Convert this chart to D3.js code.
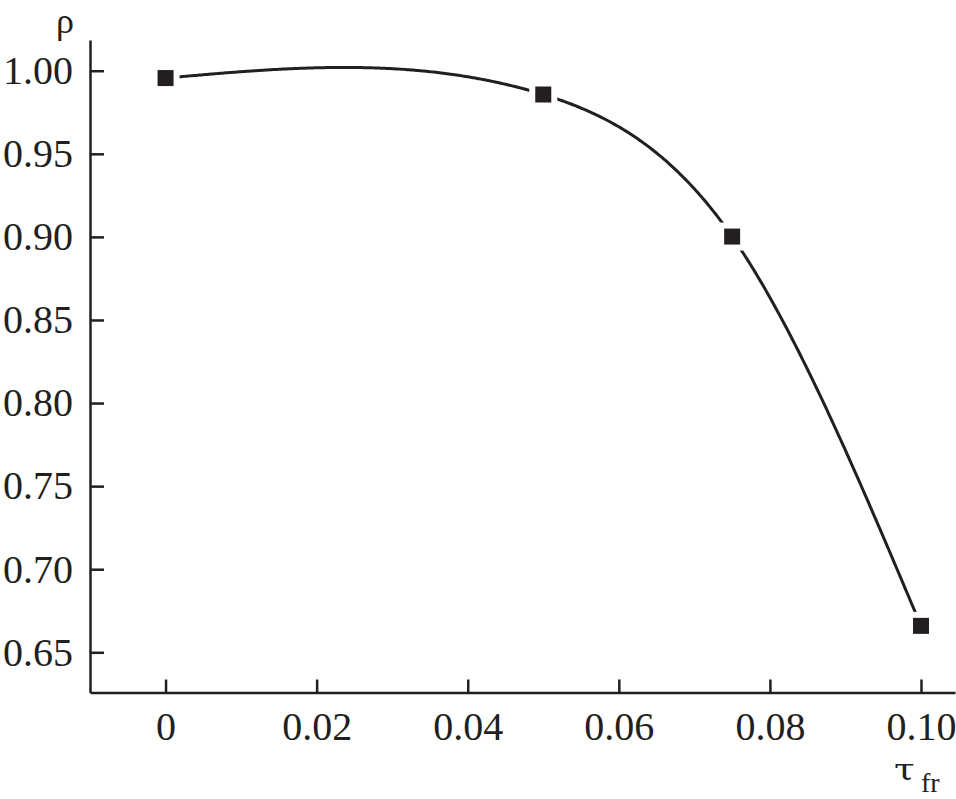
<!DOCTYPE html>
<html>
<head>
<meta charset="utf-8">
<script src="https://cdn.jsdelivr.net/npm/d3@7"></script>
<style>
  html, body { margin: 0; padding: 0; background: #fff; }
  svg { display: block; }
  text { font-family: "Liberation Serif", "DejaVu Serif", serif; fill: #231f20; }
  text.greek { font-family: "DejaVu Serif", serif; }
</style>
</head>
<body>
<svg id="chart" width="956" height="799"></svg>
<script>
// ---- data ----
const tauValues = [0, 0.05, 0.075, 0.10];
const rhoValues = [0.9956, 0.9857, 0.9002, 0.6659];
const xTickValues = [0, 0.02, 0.04, 0.06, 0.08, 0.10];
const xTickLabels = ["0", "0.02", "0.04", "0.06", "0.08", "0.10"];
const yTickValues = [0.65, 0.70, 0.75, 0.80, 0.85, 0.90, 0.95, 1.00];
const yTickLabels = ["0.65", "0.70", "0.75", "0.80", "0.85", "0.90", "0.95", "1.00"];

const ink = "#231f20";
const svg = d3.select("#chart");

const x = d3.scaleLinear().domain([-0.01, 0.1045]).range([90, 955]);
const y = d3.scaleLinear().domain([0.6258, 1.0185]).range([692.5, 40]);

// axes
const xAxis = d3.axisBottom(x)
  .tickValues(xTickValues)
  .tickFormat((d, i) => xTickLabels[i])
  .tickSizeInner(-13).tickSizeOuter(0).tickPadding(19);
const gx = svg.append("g").attr("transform", `translate(0,${y.range()[0]})`).call(xAxis);

const yAxis = d3.axisLeft(y)
  .tickValues(yTickValues)
  .tickFormat((d, i) => yTickLabels[i])
  .tickSizeInner(-14).tickSizeOuter(0).tickPadding(17);
const gy = svg.append("g").attr("transform", `translate(${x.range()[0]},0)`).call(yAxis);

[gx, gy].forEach(g => {
  g.selectAll("path.domain").attr("stroke", ink).attr("stroke-width", 2.5);
  g.selectAll(".tick line").attr("stroke", ink).attr("stroke-width", 2.5);
  g.selectAll(".tick text").attr("font-size", 40).attr("fill", ink);
});

// natural cubic spline through the data points (as a function of tau)
function naturalSpline(xs, ys) {
  const n = xs.length;
  const h = [], d = [];
  for (let i = 0; i < n - 1; i++) { h.push(xs[i+1]-xs[i]); d.push((ys[i+1]-ys[i])/h[i]); }
  const M = new Array(n).fill(0);
  const m = n - 2;
  const a = [], b = [], c = [], r = [];
  for (let i = 1; i <= m; i++) {
    a.push(h[i-1]); b.push(2*(h[i-1]+h[i])); c.push(h[i]); r.push(6*(d[i]-d[i-1]));
  }
  for (let i = 1; i < m; i++) {
    const w = a[i] / b[i-1];
    b[i] -= w * c[i-1]; r[i] -= w * r[i-1];
  }
  const sol = new Array(m);
  for (let i = m - 1; i >= 0; i--) sol[i] = (r[i] - (i < m-1 ? c[i]*sol[i+1] : 0)) / b[i];
  for (let i = 0; i < m; i++) M[i+1] = sol[i];
  return t => {
    let i = 0;
    while (i < n - 2 && t > xs[i+1]) i++;
    const A = (xs[i+1]-t)/h[i], B = (t-xs[i])/h[i];
    return A*ys[i] + B*ys[i+1] + ((A*A*A - A)*M[i] + (B*B*B - B)*M[i+1]) * h[i]*h[i] / 6;
  };
}
const f = naturalSpline(tauValues, rhoValues);
const t0 = tauValues[0], t1 = tauValues[tauValues.length-1];
const curvePts = d3.range(0, 401).map(k => { const t = t0 + (t1 - t0) * k / 400; return [t, f(t)]; });

const line = d3.line().x(d => x(d[0])).y(d => y(d[1])).curve(d3.curveLinear);
svg.append("path").datum(curvePts)
  .attr("d", line).attr("fill", "none").attr("stroke", ink).attr("stroke-width", 3);

// markers with white halo
const pts = tauValues.map((t, i) => [t, rhoValues[i]]);
const ms = 16, halo = 6;
svg.append("g").selectAll("rect").data(pts).join("rect")
  .attr("x", d => x(d[0]) - ms/2 - halo).attr("y", d => y(d[1]) - ms/2 - halo)
  .attr("width", ms + 2*halo).attr("height", ms + 2*halo).attr("fill", "#fff");
svg.append("g").selectAll("rect").data(pts).join("rect")
  .attr("x", d => x(d[0]) - ms/2).attr("y", d => y(d[1]) - ms/2)
  .attr("width", ms).attr("height", ms).attr("fill", ink);

// axis titles
svg.append("text").attr("x", 65).attr("y", 33).attr("text-anchor", "middle")
  .attr("font-size", 36).text("ρ");
svg.append("text").attr("class", "greek").attr("transform", "translate(894,780) scale(1.25,1)")
  .attr("font-size", 30).text("τ");
svg.append("text").attr("x", 921).attr("y", 792).attr("font-size", 28).text("fr");
</script>
</body>
</html>
